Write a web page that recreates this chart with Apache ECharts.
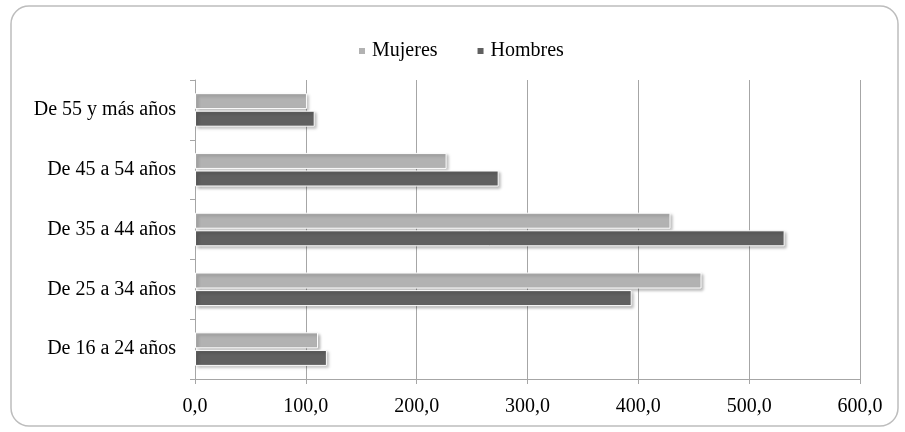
<!DOCTYPE html>
<html>
<head>
<meta charset="utf-8">
<script src="https://cdn.jsdelivr.net/npm/echarts@6/dist/echarts.min.js"></script>
<style>html,body{margin:0;padding:0;background:#fff}#c{width:905px;height:432px}</style>
</head>
<body>
<div id="c"></div>
<script>
var categories = ['De 16 a 24 años', 'De 25 a 34 años', 'De 35 a 44 años', 'De 45 a 54 años', 'De 55 y más años'];
var mujeres = [111, 457, 429, 227, 101];
var hombres = [119, 394, 532, 274, 108];
var xTicks = ['0,0', '100,0', '200,0', '300,0', '400,0', '500,0', '600,0'];

var chart = echarts.init(document.getElementById('c'));
var font = '"Liberation Serif", "Times New Roman", serif';
var barItem = function (color) {
  return {
    color: color,
    borderColor: '#ffffff',
    borderWidth: 1,
    shadowColor: 'rgba(0,0,0,0.3)',
    shadowBlur: 3,
    shadowOffsetX: 2,
    shadowOffsetY: 2
  };
};
chart.setOption({
  animation: false,
  graphic: [{
    type: 'rect',
    shape: { x: 11, y: 6, width: 887, height: 420, r: 18 },
    style: { fill: 'none', stroke: '#bdbdbd', lineWidth: 1.5 },
    z: -1
  }],
  legend: {
    top: 36,
    left: 352,
    itemWidth: 8,
    itemHeight: 8,
    itemGap: 38,
    icon: 'rect',
    textStyle: { fontFamily: font, fontSize: 20, color: '#000', padding: [0, 0, 0, 1] },
    data: ['Mujeres', 'Hombres']
  },
  grid: { left: 195, right: 45, top: 80, bottom: 53, containLabel: false },
  xAxis: {
    type: 'value',
    min: 0,
    max: 600,
    interval: 100,
    axisLine: { show: true, lineStyle: { color: '#a6a6a6', width: 1 } },
    axisTick: { show: true, length: 5, lineStyle: { color: '#a6a6a6' } },
    splitLine: { show: true, lineStyle: { color: '#a6a6a6', width: 1 } },
    axisLabel: {
      fontFamily: font, fontSize: 20, color: '#000', margin: 18,
      formatter: function (v) { return xTicks[Math.round(v / 100)]; }
    }
  },
  yAxis: {
    type: 'category',
    data: categories,
    axisLine: { show: true, lineStyle: { color: '#a6a6a6', width: 1 } },
    axisTick: { show: true, length: 5, lineStyle: { color: '#a6a6a6' } },
    axisLabel: { fontFamily: font, fontSize: 20, color: '#000', margin: 19 }
  },
  series: [{
    name: 'Mujeres',
    type: 'bar',
    data: mujeres,
    barWidth: 16,
    barGap: '10%',
    itemStyle: barItem('#b2b2b2')
  }, {
    name: 'Hombres',
    type: 'bar',
    data: hombres,
    barWidth: 16,
    barGap: '10%',
    itemStyle: barItem('#606060')
  }]
});
</script>
</body>
</html>
